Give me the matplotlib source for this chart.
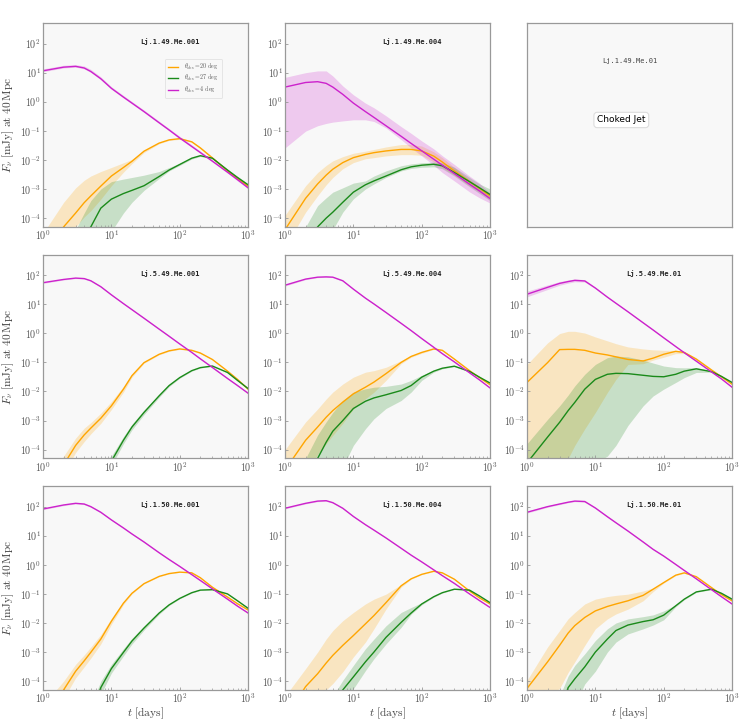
import numpy as np
import matplotlib
matplotlib.use("Agg")
import matplotlib.pyplot as plt
from matplotlib.ticker import FixedLocator, FuncFormatter, NullLocator, NullFormatter

plt.rcParams['mathtext.fontset'] = 'cm'
plt.rcParams['font.family'] = ['DejaVu Serif']

# time grid [days]
t_days = [1, 2, 3, 4, 5, 7, 10, 15, 20, 30, 50, 70, 100, 150, 200, 300, 500, 700, 1000]

x_ticks = [1, 10, 100, 1000]
y_ticks = [1e-4, 1e-3, 1e-2, 1e-1, 1e0, 1e1, 1e2]

obs_labels = [r'$\theta_{\rm obs}=20\ \mathrm{deg}$', r'$\theta_{\rm obs}=27\ \mathrm{deg}$', r'$\theta_{\rm obs}=4\ \mathrm{deg}$']
panel_names = ['Lj.1.49.Me.001', 'Lj.1.49.Me.004', 'Lj.1.49.Me.01',
               'Lj.5.49.Me.001', 'Lj.5.49.Me.004', 'Lj.5.49.Me.01',
               'Lj.1.50.Me.001', 'Lj.1.50.Me.004', 'Lj.1.50.Me.01']

# ---------------- Lj.1.49.Me.001 ----------------
p1_mag    = [11.6, 15.5, 16.5, 14.5, 11, 6.2, 2.9, 1.45, 0.9, 0.46, 0.19, 0.107, 0.057, 0.029, 0.018, 0.0091, 0.0038, 0.0021, 0.0011]
p1_mag_hi = [13.5, 18, 19, 17, 13, 7.2, 3.3, 1.65, 1.02, 0.52, 0.215, 0.12, 0.065, 0.033, 0.02, 0.0101, 0.0042, 0.0023, 0.00121]
p1_mag_lo = [10.8, 14.5, 15.5, 13.5, 10.2, 5.7, 2.7, 1.35, 0.84, 0.43, 0.178, 0.1, 0.053, 0.027, 0.0168, 0.0085, 0.0035, 0.0019, 0.00103]
p1_or     = [3e-6, 5e-5, 1.5e-4, 3.4e-4, 5.8e-4, 1.26e-3, 2.8e-3, 5.5e-3, 9e-3, 0.02, 0.038, 0.049, 0.054, 0.042, 0.026, 0.0118, 0.0042, 0.0023, 0.00126]
p1_or_hi  = [3e-5, 3.5e-4, 1.1e-3, 2e-3, 2.8e-3, 4e-3, 5.5e-3, 8e-3, 0.0105, 0.0215, 0.04, 0.051, 0.057, 0.045, 0.028, 0.0128, 0.0046, 0.0025, 0.00135]
p1_or_lo  = [1e-6, 1e-5, 5e-5, 1.1e-4, 1.8e-4, 4.5e-4, 1.3e-3, 3.8e-3, 7.5e-3, 0.018, 0.036, 0.047, 0.051, 0.04, 0.024, 0.011, 0.0039, 0.0021, 0.00117]
p1_gr     = [1e-6, 4e-6, 1.2e-5, 2.8e-5, 5e-5, 2.2e-4, 4.5e-4, 7e-4, 9e-4, 1.3e-3, 2.7e-3, 4.5e-3, 7e-3, 0.0115, 0.014, 0.0115, 0.0045, 0.0025, 0.0014]
p1_gr_hi  = [1e-6, 5e-6, 4e-5, 1.5e-4, 4e-4, 1e-3, 1.8e-3, 2.2e-3, 2.5e-3, 3e-3, 4e-3, 5.5e-3, 7.7e-3, 0.0122, 0.0148, 0.0122, 0.0048, 0.0027, 0.0015]
p1_gr_lo  = [1e-6, 1e-6, 1e-6, 1e-6, 2e-6, 8e-6, 3.5e-5, 1.5e-4, 3.5e-4, 9e-4, 2.3e-3, 4.2e-3, 6.5e-3, 0.0108, 0.0132, 0.0108, 0.0042, 0.0023, 0.0013]

# ---------------- Lj.1.49.Me.004 ----------------
p2_mag    = [3.2, 4.6, 4.9, 4.3, 3.2, 1.8, 0.9, 0.46, 0.29, 0.15, 0.065, 0.037, 0.0206, 0.0106, 0.0066, 0.0034, 0.00147, 8.6e-4, 4.7e-4]
p2_mag_hi = [6.9, 10, 11.5, 11.5, 7.7, 3.5, 1.74, 0.9, 0.62, 0.33, 0.14, 0.082, 0.045, 0.024, 0.014, 0.007, 0.0028, 0.0016, 7e-4]
p2_mag_lo = [0.026, 0.098, 0.15, 0.18, 0.2, 0.22, 0.24, 0.24, 0.21, 0.126, 0.05, 0.026, 0.0138, 0.0066, 0.0037, 0.0019, 8e-4, 5e-4, 3.3e-4]
p2_or     = [4e-5, 4.8e-4, 1.5e-3, 3e-3, 4.8e-3, 8.1e-3, 0.012, 0.0155, 0.0178, 0.0204, 0.023, 0.023, 0.0204, 0.0135, 0.0085, 0.0042, 0.0018, 0.00105, 5.8e-4]
p2_or_hi  = [1.25e-4, 1.3e-3, 3.7e-3, 6.5e-3, 9.3e-3, 0.013, 0.017, 0.02, 0.023, 0.028, 0.034, 0.034, 0.03, 0.019, 0.012, 0.0055, 0.0021, 0.0012, 6.8e-4]
p2_or_lo  = [1e-5, 1.6e-4, 5.9e-4, 1.4e-3, 2.5e-3, 5e-3, 8.1e-3, 0.011, 0.012, 0.0138, 0.0152, 0.0152, 0.0145, 0.0085, 0.0055, 0.003, 0.0013, 8e-4, 4.5e-4]
p2_gr     = [2e-6, 1.5e-5, 5e-5, 1e-4, 1.6e-4, 3.5e-4, 7.8e-4, 1.4e-3, 1.9e-3, 2.8e-3, 4.6e-3, 5.8e-3, 6.6e-3, 7.1e-3, 6.3e-3, 3.7e-3, 1.8e-3, 1.1e-3, 6.5e-4]
p2_gr_hi  = [5e-6, 5e-5, 2.7e-4, 5e-4, 7.8e-4, 1.1e-3, 1.6e-3, 1.9e-3, 2.8e-3, 4.2e-3, 6.3e-3, 7.3e-3, 8e-3, 8.4e-3, 8e-3, 5.6e-3, 2.5e-3, 1.5e-3, 1e-3]
p2_gr_lo  = [1e-6, 3e-6, 1e-5, 2.5e-5, 4e-5, 1.6e-4, 4.6e-4, 1e-3, 1.5e-3, 2.5e-3, 4.2e-3, 5.1e-3, 5.6e-3, 5.8e-3, 5e-3, 2.8e-3, 1.2e-3, 7e-4, 4e-4]

# ---------------- Lj.5.49.Me.001 ----------------
p4_mag    = [55, 71, 79, 76, 64, 40, 21, 10.5, 6.5, 3.3, 1.39, 0.79, 0.43, 0.22, 0.133, 0.067, 0.028, 0.016, 0.0087]
p4_mag_hi = [58, 75, 84, 80, 68, 42, 22, 11, 6.8, 3.5, 1.46, 0.83, 0.45, 0.23, 0.14, 0.07, 0.029, 0.0168, 0.0091]
p4_mag_lo = [52, 68, 76, 73, 61, 38, 20, 10, 6.2, 3.15, 1.33, 0.75, 0.41, 0.21, 0.127, 0.064, 0.0268, 0.0153, 0.0083]
p4_or     = [3e-6, 3e-5, 1.4e-4, 3.2e-4, 5.5e-4, 1.2e-3, 3.2e-3, 0.012, 0.035, 0.098, 0.19, 0.25, 0.29, 0.26, 0.21, 0.126, 0.05, 0.026, 0.012]
p4_or_hi  = [8e-6, 6e-5, 2.5e-4, 5.5e-4, 8.5e-4, 1.8e-3, 4.5e-3, 0.015, 0.04, 0.103, 0.198, 0.26, 0.3, 0.27, 0.22, 0.131, 0.052, 0.027, 0.0125]
p4_or_lo  = [1e-6, 1.5e-5, 8e-5, 1.9e-4, 3.5e-4, 8e-4, 2.4e-3, 0.0095, 0.031, 0.093, 0.182, 0.24, 0.28, 0.25, 0.2, 0.121, 0.048, 0.025, 0.0115]
p4_gr     = [1e-7, 1e-6, 3e-6, 6e-6, 1e-5, 2e-5, 4e-5, 2.1e-4, 6e-4, 1.9e-3, 7.1e-3, 0.016, 0.03, 0.052, 0.066, 0.075, 0.045, 0.024, 0.0126]
p4_gr_hi  = [2e-7, 2e-6, 5e-6, 1e-5, 1.7e-5, 3.5e-5, 6e-5, 2.8e-4, 7.5e-4, 2.3e-3, 8e-3, 0.0172, 0.0315, 0.054, 0.068, 0.077, 0.046, 0.025, 0.013]
p4_gr_lo  = [5e-8, 5e-7, 1.5e-6, 3e-6, 6e-6, 1.2e-5, 2.8e-5, 1.6e-4, 4.8e-4, 1.6e-3, 6.3e-3, 0.0148, 0.0285, 0.05, 0.064, 0.073, 0.044, 0.023, 0.0122]

# ---------------- Lj.5.49.Me.004 ----------------
p5_mag    = [45, 73, 85, 87, 85, 64, 33, 16.2, 10.2, 5.2, 2.2, 1.24, 0.66, 0.33, 0.2, 0.104, 0.044, 0.025, 0.0132]
p5_mag_hi = [48, 77, 89, 91, 89, 67, 34.5, 17, 10.7, 5.45, 2.3, 1.3, 0.69, 0.345, 0.21, 0.109, 0.046, 0.026, 0.0138]
p5_mag_lo = [42, 70, 82, 84, 82, 61, 31.5, 15.5, 9.8, 5.0, 2.1, 1.19, 0.63, 0.315, 0.19, 0.099, 0.042, 0.024, 0.0126]
p5_or     = [2e-5, 2.1e-4, 6e-4, 1.3e-3, 2.2e-3, 4.3e-3, 8.3e-3, 0.014, 0.021, 0.041, 0.1, 0.16, 0.22, 0.29, 0.26, 0.13, 0.052, 0.03, 0.017]
p5_or_hi  = [1e-4, 9e-4, 2.5e-3, 5.5e-3, 9.5e-3, 0.018, 0.031, 0.046, 0.052, 0.068, 0.115, 0.17, 0.235, 0.3, 0.27, 0.135, 0.054, 0.031, 0.0176]
p5_or_lo  = [1e-6, 1e-5, 7e-5, 1.6e-4, 3.1e-4, 8e-4, 2.5e-3, 5.6e-3, 9.5e-3, 0.024, 0.09, 0.15, 0.205, 0.28, 0.25, 0.125, 0.05, 0.029, 0.0164]
p5_gr     = [1e-6, 1e-5, 5e-5, 1.8e-4, 4.3e-4, 1e-3, 2.6e-3, 4.6e-3, 6e-3, 7.7e-3, 0.0108, 0.016, 0.031, 0.05, 0.063, 0.074, 0.049, 0.031, 0.0195]
p5_gr_hi  = [5e-6, 5e-5, 3.2e-4, 9e-4, 1.9e-3, 4.9e-3, 9.5e-3, 0.0123, 0.014, 0.015, 0.018, 0.024, 0.036, 0.053, 0.066, 0.077, 0.051, 0.032, 0.0202]
p5_gr_lo  = [1e-7, 1e-6, 3e-6, 7e-6, 1.2e-5, 2.5e-5, 1.4e-4, 5.2e-4, 1.15e-3, 2.6e-3, 4.9e-3, 9.5e-3, 0.024, 0.046, 0.06, 0.071, 0.047, 0.03, 0.0188]

# ---------------- Lj.5.49.Me.01 ----------------
p6_mag    = [22, 38, 52, 60, 66, 63, 36, 17.5, 10.8, 5.5, 2.3, 1.3, 0.7, 0.35, 0.215, 0.11, 0.047, 0.027, 0.014]
p6_mag_hi = [28, 46, 60, 68, 74, 70, 37.5, 18.3, 11.3, 5.75, 2.4, 1.36, 0.73, 0.365, 0.225, 0.115, 0.049, 0.028, 0.0146]
p6_mag_lo = [18, 32, 45, 53, 59, 58, 34, 16.8, 10.4, 5.3, 2.2, 1.25, 0.67, 0.335, 0.206, 0.105, 0.045, 0.026, 0.0134]
p6_or     = [0.0204, 0.098, 0.275, 0.28, 0.28, 0.26, 0.21, 0.18, 0.155, 0.126, 0.112, 0.14, 0.19, 0.24, 0.22, 0.13, 0.055, 0.032, 0.0178]
p6_or_hi  = [0.085, 0.47, 0.98, 1.17, 1.17, 1.02, 0.75, 0.55, 0.44, 0.34, 0.29, 0.27, 0.26, 0.26, 0.235, 0.135, 0.057, 0.033, 0.0185]
p6_or_lo  = [1e-6, 5e-6, 2e-5, 5e-5, 1.4e-4, 5.2e-4, 1.9e-3, 9.3e-3, 0.026, 0.085, 0.09, 0.12, 0.15, 0.2, 0.2, 0.12, 0.052, 0.03, 0.017]
p6_gr     = [3.5e-5, 2.7e-4, 8.7e-4, 2.2e-3, 4.2e-3, 0.012, 0.026, 0.039, 0.042, 0.041, 0.036, 0.033, 0.032, 0.039, 0.05, 0.06, 0.048, 0.033, 0.0204]
p6_gr_hi  = [1.6e-4, 1.1e-3, 3.2e-3, 7.5e-3, 0.0155, 0.039, 0.085, 0.145, 0.165, 0.155, 0.12, 0.095, 0.075, 0.066, 0.065, 0.066, 0.052, 0.034, 0.021]
p6_gr_lo  = [1e-7, 5e-7, 2e-6, 5e-6, 1e-5, 2e-5, 3.5e-5, 6e-5, 1.4e-4, 6.8e-4, 3.2e-3, 7e-3, 0.012, 0.0204, 0.03, 0.045, 0.046, 0.032, 0.0198]

# ---------------- Lj.1.50.Me.001 ----------------
p7_mag    = [83, 114, 130, 123, 100, 64, 35, 18.5, 11.5, 6.1, 2.6, 1.52, 0.88, 0.46, 0.29, 0.15, 0.066, 0.038, 0.022]
p7_mag_hi = [88, 121, 138, 131, 106, 68, 37, 19.6, 12.2, 6.5, 2.75, 1.6, 0.93, 0.49, 0.31, 0.16, 0.07, 0.04, 0.023]
p7_mag_lo = [79, 108, 124, 117, 95, 61, 33.5, 17.6, 11, 5.8, 2.48, 1.45, 0.84, 0.44, 0.275, 0.143, 0.063, 0.036, 0.021]
p7_or     = [5e-6, 5e-5, 2.2e-4, 5e-4, 9.8e-4, 2.8e-3, 0.0115, 0.048, 0.105, 0.225, 0.4, 0.5, 0.56, 0.53, 0.36, 0.17, 0.078, 0.046, 0.028]
p7_or_hi  = [1.5e-5, 1e-4, 3.8e-4, 8e-4, 1.5e-3, 4e-3, 0.0145, 0.054, 0.11, 0.23, 0.41, 0.51, 0.57, 0.54, 0.375, 0.18, 0.082, 0.048, 0.029]
p7_or_lo  = [2e-6, 2.5e-5, 1.3e-4, 3.1e-4, 6.2e-4, 1.9e-3, 0.009, 0.043, 0.1, 0.22, 0.39, 0.49, 0.55, 0.52, 0.35, 0.165, 0.075, 0.044, 0.027]
p7_gr     = [1e-8, 1e-7, 5e-7, 2e-6, 7e-6, 6e-5, 2.7e-4, 9.8e-4, 2.4e-3, 6.7e-3, 0.022, 0.042, 0.07, 0.11, 0.135, 0.14, 0.1, 0.058, 0.032]
p7_gr_hi  = [2e-8, 2e-7, 1e-6, 4e-6, 1.5e-5, 1e-4, 3.8e-4, 1.3e-3, 3e-3, 7.8e-3, 0.024, 0.044, 0.072, 0.113, 0.138, 0.143, 0.102, 0.061, 0.033]
p7_gr_lo  = [5e-9, 5e-8, 2.5e-7, 1e-6, 3.5e-6, 3.5e-5, 1.9e-4, 7.4e-4, 1.9e-3, 5.7e-3, 0.02, 0.04, 0.068, 0.107, 0.132, 0.137, 0.098, 0.056, 0.031]

# ---------------- Lj.1.50.Me.004 ----------------
p8_mag    = [88, 130, 155, 160, 137, 88, 46, 24, 15.6, 8.4, 3.7, 2.15, 1.26, 0.67, 0.425, 0.23, 0.1, 0.059, 0.034]
p8_mag_hi = [93, 137, 163, 168, 144, 92, 48, 25, 16.3, 8.8, 3.85, 2.25, 1.31, 0.7, 0.44, 0.24, 0.104, 0.061, 0.035]
p8_mag_lo = [84, 124, 148, 153, 131, 84, 44, 23, 15, 8.1, 3.55, 2.07, 1.21, 0.645, 0.41, 0.22, 0.096, 0.057, 0.033]
p8_or     = [5e-6, 6.5e-5, 1.8e-4, 4.2e-4, 7.7e-4, 1.7e-3, 3.7e-3, 9.3e-3, 0.018, 0.05, 0.19, 0.33, 0.47, 0.6, 0.53, 0.32, 0.126, 0.073, 0.045]
p8_or_hi  = [3e-5, 2.7e-4, 1e-3, 2.8e-3, 5.5e-3, 0.012, 0.023, 0.045, 0.066, 0.098, 0.21, 0.34, 0.48, 0.61, 0.54, 0.33, 0.13, 0.075, 0.046]
p8_or_lo  = [1e-6, 5e-6, 1.5e-5, 5e-5, 8.3e-5, 2.1e-4, 6.8e-4, 2.2e-3, 6.3e-3, 0.03, 0.17, 0.32, 0.46, 0.59, 0.52, 0.31, 0.122, 0.071, 0.044]
p8_gr     = [1e-8, 1e-7, 5e-7, 2e-6, 1e-5, 5e-5, 1.4e-4, 4.6e-4, 1e-3, 3.2e-3, 0.0105, 0.022, 0.045, 0.08, 0.11, 0.145, 0.135, 0.085, 0.05]
p8_gr_hi  = [2e-8, 3e-7, 2e-6, 1e-5, 3e-5, 1.07e-4, 3.5e-4, 1.3e-3, 2.8e-3, 8e-3, 0.023, 0.034, 0.05, 0.083, 0.113, 0.148, 0.138, 0.087, 0.051]
p8_gr_lo  = [5e-9, 5e-8, 2e-7, 5e-7, 3e-6, 1.5e-5, 5.5e-5, 2.3e-4, 5.9e-4, 1.9e-3, 7.1e-3, 0.02, 0.042, 0.077, 0.107, 0.142, 0.132, 0.083, 0.049]

# ---------------- Lj.1.50.Me.01 ----------------
p9_mag    = [64, 100, 123, 142, 155, 150, 90, 45, 28, 14.5, 6.1, 3.4, 2.0, 1.03, 0.64, 0.33, 0.14, 0.08, 0.045]
p9_mag_hi = [70, 108, 133, 152, 166, 162, 94, 48, 29.5, 15.3, 6.4, 3.6, 2.1, 1.08, 0.67, 0.345, 0.147, 0.084, 0.047]
p9_mag_lo = [60, 95, 117, 136, 148, 142, 85, 43, 26.7, 13.8, 5.8, 3.25, 1.9, 0.98, 0.61, 0.315, 0.134, 0.077, 0.043]
p9_or     = [5.6e-5, 4.6e-4, 1.7e-3, 4.5e-3, 8.1e-3, 0.0155, 0.026, 0.037, 0.045, 0.058, 0.089, 0.145, 0.245, 0.44, 0.53, 0.39, 0.165, 0.095, 0.058]
p9_or_hi  = [1.07e-4, 1.5e-3, 5.5e-3, 0.014, 0.023, 0.045, 0.066, 0.081, 0.089, 0.098, 0.126, 0.16, 0.255, 0.455, 0.55, 0.405, 0.172, 0.099, 0.061]
p9_or_lo  = [5e-6, 3e-5, 5.6e-5, 2e-4, 4.6e-4, 1.7e-3, 6.3e-3, 0.0138, 0.0204, 0.03, 0.058, 0.12, 0.235, 0.425, 0.51, 0.375, 0.158, 0.091, 0.055]
p9_gr     = [1e-7, 2e-6, 8e-6, 6e-5, 1.2e-4, 3.1e-4, 1e-3, 2.8e-3, 5.5e-3, 8.5e-3, 0.0112, 0.0129, 0.0186, 0.039, 0.066, 0.117, 0.145, 0.105, 0.066]
p9_gr_hi  = [2e-7, 5e-6, 3e-5, 1.5e-4, 3.5e-4, 8.7e-4, 2.5e-3, 6.3e-3, 0.01, 0.0138, 0.0165, 0.019, 0.026, 0.042, 0.069, 0.121, 0.15, 0.108, 0.068]
p9_gr_lo  = [2e-8, 5e-7, 2e-6, 6e-6, 1.5e-5, 8e-5, 2.2e-4, 1e-3, 2.2e-3, 4.2e-3, 6.3e-3, 8.5e-3, 0.0129, 0.036, 0.063, 0.113, 0.14, 0.102, 0.064]

panels = {
    0: [(p1_or, p1_or_lo, p1_or_hi), (p1_gr, p1_gr_lo, p1_gr_hi), (p1_mag, p1_mag_lo, p1_mag_hi)],
    1: [(p2_or, p2_or_lo, p2_or_hi), (p2_gr, p2_gr_lo, p2_gr_hi), (p2_mag, p2_mag_lo, p2_mag_hi)],
    3: [(p4_or, p4_or_lo, p4_or_hi), (p4_gr, p4_gr_lo, p4_gr_hi), (p4_mag, p4_mag_lo, p4_mag_hi)],
    4: [(p5_or, p5_or_lo, p5_or_hi), (p5_gr, p5_gr_lo, p5_gr_hi), (p5_mag, p5_mag_lo, p5_mag_hi)],
    5: [(p6_or, p6_or_lo, p6_or_hi), (p6_gr, p6_gr_lo, p6_gr_hi), (p6_mag, p6_mag_lo, p6_mag_hi)],
    6: [(p7_or, p7_or_lo, p7_or_hi), (p7_gr, p7_gr_lo, p7_gr_hi), (p7_mag, p7_mag_lo, p7_mag_hi)],
    7: [(p8_or, p8_or_lo, p8_or_hi), (p8_gr, p8_gr_lo, p8_gr_hi), (p8_mag, p8_mag_lo, p8_mag_hi)],
    8: [(p9_or, p9_or_lo, p9_or_hi), (p9_gr, p9_gr_lo, p9_gr_hi), (p9_mag, p9_mag_lo, p9_mag_hi)],
}

colors = ['#FFA500', '#1a8a1a', '#cc22cc']
spine_col = '#999999'
tick_col = '#555555'

fig, axes = plt.subplots(3, 3, figsize=(7.47, 7.27), dpi=100)
fig.subplots_adjust(left=0.0576, right=0.980, top=0.968, bottom=0.051, wspace=0.18, hspace=0.137)

t = np.array(t_days, dtype=float)
fmt = FuncFormatter(lambda v, p: r'$10^{%d}$' % int(round(np.log10(v))))
x_minor = [m * d for d in (1, 10, 100) for m in range(2, 10)]

for i, ax in enumerate(axes.flat):
    ax.set_facecolor('#f8f8f8')
    for s in ax.spines.values():
        s.set_color(spine_col)
        s.set_linewidth(0.9)
    if i == 2:
        ax.set_xticks([])
        ax.set_yticks([])
        ax.text(0.5, 0.815, panel_names[i], transform=ax.transAxes, ha='center', va='center',
                family='DejaVu Sans Mono', fontsize=5, color='#444444')
        ax.text(0.46, 0.525, 'Choked Jet', transform=ax.transAxes, ha='center', va='center',
                family='DejaVu Sans', fontsize=6.5,
                bbox=dict(boxstyle='round,pad=0.35', facecolor='white', edgecolor='#dddddd', linewidth=0.8))
        continue
    for k, (c, lo, hi) in enumerate(panels[i]):
        ax.fill_between(t, lo, hi, color=colors[k], alpha=0.22, linewidth=0)
        ax.plot(t, c, color=colors[k], lw=1.0, label=obs_labels[k])
    ax.set_xscale('log')
    ax.set_yscale('log')
    ax.set_xlim(1, 1000)
    ax.set_ylim(5e-5, 5e2)
    ax.yaxis.set_major_locator(FixedLocator(y_ticks))
    ax.yaxis.set_minor_locator(NullLocator())
    ax.xaxis.set_major_locator(FixedLocator(x_ticks))
    ax.xaxis.set_minor_locator(FixedLocator(x_minor))
    ax.xaxis.set_minor_formatter(NullFormatter())
    ax.xaxis.set_major_formatter(fmt)
    ax.yaxis.set_major_formatter(fmt)
    ax.tick_params(which='major', direction='in', length=2.5, width=0.6, colors=spine_col,
                   labelcolor=tick_col, labelsize=7.2, pad=1.5)
    ax.tick_params(which='minor', direction='in', length=1.5, width=0.5, colors=spine_col)
    ax.text(0.62, 0.91, panel_names[i], transform=ax.transAxes, ha='center', va='center',
            family='DejaVu Sans Mono', fontsize=5, color='#222222', fontweight='bold')
    if i % 3 == 0:
        ax.set_ylabel(r'$F_\nu\ [\mathrm{mJy}]\ \mathrm{at}\ 40\,\mathrm{Mpc}$', fontsize=8.2, color='#444444', labelpad=3)
    if i >= 6:
        ax.set_xlabel(r'$t\ [\mathrm{days}]$', fontsize=8.2, color='#444444', labelpad=0)
    if i == 0:
        leg = ax.legend(loc='upper left', bbox_to_anchor=(0.595, 0.825), fontsize=4.3, frameon=True,
                        handlelength=1.7, borderpad=0.5, labelspacing=0.25, fancybox=True,
                        handletextpad=1.0, borderaxespad=0)
        leg.get_frame().set_edgecolor('#dddddd')
        leg.get_frame().set_facecolor('#f8f8f8')
        leg.get_frame().set_linewidth(0.6)
        for txt in leg.get_texts():
            txt.set_color('#555555')

fig.savefig('out.png', dpi=100)
